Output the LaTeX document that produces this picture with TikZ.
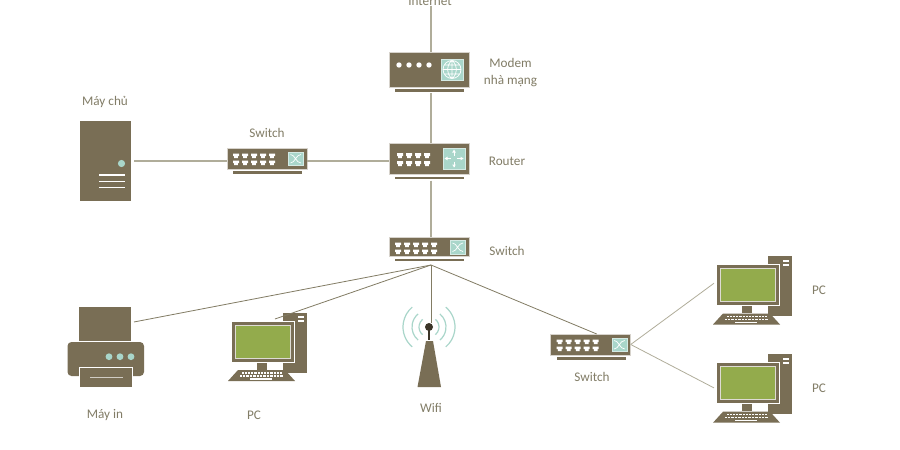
\documentclass[tikz,border=0pt]{standalone}
\usepackage{fontspec}
\setmainfont{Carlito}
\definecolor{body}{HTML}{796E55}
\definecolor{teal}{HTML}{A9D6CA}
\definecolor{scr}{HTML}{93AB4C}
\definecolor{txt}{HTML}{827D67}
\definecolor{linkA}{HTML}{B0AD9A}
\definecolor{linkB}{HTML}{827C64}
\definecolor{ink}{HTML}{3B3528}
\tikzset{
  box/.style={fill=body,inner sep=0pt,minimum width=#1},
  box/.default=80pt,
  lbl/.style={text=txt,font=\fontsize{13.2}{15.5}\selectfont,inner sep=0pt,align=center},
  baseBar/.style={fill=body},
  tealbox/.style={fill=teal,draw=white!50!teal,line width=.4pt},
  linkthick/.style={draw=linkA,line width=1.4pt},
  linkthin/.style={draw=linkB,line width=.8pt},
  wh/.style={draw=white,line width=.9pt}
}
% name, x left, y top, height
\newcommand{\netbox}[4]{%
  \node[box,draw=white!70!body,line width=.5pt,minimum height=#4 pt,outer sep=0pt] (#1) at (#2+40,#3+#4/2) {};
  \fill[baseBar] (#2+6,#3+#4+2.4) rectangle (#2+75,#3+#4+4.6);
}
% x left, y row 1, y row 2, columns, height
\newcommand{\ports}[5]{%
  \foreach \c in {1,...,#4}{
    \foreach \r in {#2,#3}{
      \fill[white] (#1+\c*9-9,\r) -- ++(6,0) -- ++(0,#5*.6) -- ++(-1.2,0) -- ++(0,#5*.4) -- ++(-3.6,0) -- ++(0,-#5*.4) -- ++(-1.2,0) -- cycle;
    }
  }
}
% name, x shift, y shift
\newcommand{\pcunit}[3]{%
  \begin{scope}[shift={(#2,#3)}]
    \fill[body] (282,312) rectangle (307,373);
    \draw[draw=white,line width=.5pt] (282,312) rectangle (307,373);
    \fill[white] (298,316) rectangle (304,318.2);
    \fill[white] (298,320) rectangle (304,322.2);
    \node[box=63pt,minimum height=41pt,draw=white,line width=.7pt,outer sep=2pt] (#1) at (262.5,341.5) {};
    \fill[scr] (235,325) rectangle (290,358);
    \draw[white!75!body,line width=1pt] (235,325) rectangle (290,358);
    \fill[body] (257,362.6) rectangle (267,369.5);
    \fill[body] (238,370) -- (285,370) -- (295,381) -- (228,381) -- cycle;
    \foreach \kx in {0,...,12}{
      \fill[white] (241.5+\kx*3.2,372) rectangle ++(2.2,1.6);
      \fill[white] (239.5+\kx*3.4,375) rectangle ++(2.4,1.6);
    }
    \fill[white] (250,378) rectangle (272,379.6);
  \end{scope}
}
\begin{document}
\begin{tikzpicture}[x=1pt,y=-1pt]
\useasboundingbox (0,0) rectangle (900,450);
\clip (0,0) rectangle (900,450);
\fill[white] (0,0) rectangle (900,450);

% Modem
\netbox{modem}{389}{52}{35}
\foreach \dx in {399,409,419,429}{\fill[white] (\dx,65) circle (2.7);}
\fill[tealbox] (441,59) rectangle (463,80);
\draw[tealbox] (441,59) rectangle (463,80);
\draw[wh,line width=.7pt] (452,69.5) circle (9) (443,69.5) -- (461,69.5) (452,60.5) -- (452,78.5)
  (444.5,65) -- (459.5,65) (444.5,74) -- (459.5,74)
  (452,60.5) .. controls (446,65) and (446,74) .. (452,78.5)
  (452,60.5) .. controls (458,65) and (458,74) .. (452,78.5);

% Router
\netbox{router}{389}{143}{31.5}
\ports{397}{153}{161}{4}{5}
\draw[tealbox] (443,148) rectangle (465,169);
\draw[wh,line width=.8pt] (454,150.5) -- (454,156) (454,161.5) -- (454,166.5) (445.5,158.5) -- (451,158.5) (457,158.5) -- (462.5,158.5);
\fill[white] (454,149.5) -- (455.8,152.5) -- (452.2,152.5) -- cycle
  (454,167.5) -- (455.8,164.5) -- (452.2,164.5) -- cycle
  (444.5,158.5) -- (447.5,156.7) -- (447.5,160.3) -- cycle
  (463.5,158.5) -- (460.5,156.7) -- (460.5,160.3) -- cycle;

% Main switch
\netbox{swmain}{389}{237}{19.7}
\ports{395}{242.5}{249.5}{5}{4.5}
\draw[tealbox] (450.5,240.5) rectangle (465,254);
\draw[wh,line width=.7pt] (452.5,243) .. controls (457,243) and (458,251.5) .. (463,251.5)
  (452.5,251.5) .. controls (457,251.5) and (458,243) .. (463,243);

% Left switch
\netbox{swleft}{227}{148}{21}
\ports{233}{153.5}{160.5}{5}{4.5}
\draw[tealbox] (288.5,152) rectangle (303,165.5);
\draw[wh,line width=.7pt] (290.5,154.5) .. controls (295,154.5) and (296,163) .. (301,163)
  (290.5,163) .. controls (295,163) and (296,154.5) .. (301,154.5);

% Right switch
\netbox{swright}{550.7}{334}{21}
\ports{556.7}{339.5}{346.5}{5}{4.5}
\draw[tealbox] (612.2,338) rectangle (626.7,351.5);
\draw[wh,line width=.7pt] (614.2,340.5) .. controls (618.7,340.5) and (619.7,349) .. (624.7,349)
  (614.2,349) .. controls (618.7,349) and (619.7,340.5) .. (624.7,340.5);

% Server
\node[box=51pt,minimum height=80pt,outer sep=3pt] (server) at (105.5,161) {};
\fill[teal] (121.5,163.5) circle (3.6);
\foreach \ly in {175,181.5,187.5}{\draw[white,line width=1.2pt] (99,\ly) -- (125,\ly);}

% Printer
\node[box=52pt,minimum height=34pt,outer sep=3pt] (printer) at (105,324) {};
\fill[body,rounded corners=4pt] (67.5,342) rectangle (144,376);
\fill[body,draw=white,line width=.8pt] (79.5,367) rectangle (132,387.5);
\draw[white!65!body,line width=1pt] (90,377) -- (123,377);
\foreach \px in {109,120,131}{\fill[teal] (\px,356.7) circle (3.4);}

% PCs
\pcunit{pca}{0}{0}
\pcunit{pcb}{485}{-56.5}
\pcunit{pcc}{485}{41.7}

% Wifi
\foreach \rr in {10,17,26}{
  \draw[teal,line width=1.2pt] ([shift={(-50:\rr)}]429,327) arc (-50:50:\rr);
  \draw[teal,line width=1.2pt] ([shift={(130:\rr)}]429,327) arc (130:230:\rr);
}
\fill[body] (426,341) -- (433,341) -- (441,387) -- (417.5,387) -- cycle;
\draw[ink,line width=2pt] (429,327) -- (429,340);
\node[circle,fill=ink,inner sep=0pt,minimum size=8pt,outer sep=0pt] (wifi) at (429,327) {};

% Labels
\node[lbl] (inet) at (430,1.5) {Internet};
\node[lbl] at (510.5,72.5) {Modem\\[1pt]nhà mạng};
\node[lbl] at (507,161) {Router};
\node[lbl] at (507,250.5) {Switch};
\node[lbl] at (267,132.5) {Switch};
\node[lbl] at (105,101.5) {Máy chủ};
\node[lbl] at (105,415.5) {Máy in};
\node[lbl] at (254,415.5) {PC};
\node[lbl] at (431,407.5) {Wifi};
\node[lbl] at (592,376.5) {Switch};
\node[lbl] at (819,290.5) {PC};
\node[lbl] at (819,388.5) {PC};

% Connectors
\coordinate (hub) at (431,265);
\draw[linkthick] ([xshift=1pt]inet.south) -- ([xshift=2pt]modem.north);
\draw[linkthick] ([xshift=2pt,yshift=-6pt]modem.south) -- ([xshift=2pt]router.north);
\draw[linkthick] ([xshift=2pt,yshift=-6pt]router.south) -- ([xshift=2pt]swmain.north);
\draw[linkthick] (server.east) -- ([yshift=-2.5pt]swleft.west);
\draw[linkthick] ([yshift=-2.5pt]swleft.east) -- ([yshift=-2.25pt]router.west);
\draw[linkthin] (hub) -- (printer.4);
\draw[linkthin] (hub) -- (pca.61);
\draw[linkthin] (hub) -- (wifi.north -| hub);
\draw[linkthin] (hub) -- ([xshift=6pt]swright.north);
\draw[linkthin,draw=linkA] (swright.east) -- (pcb.177);
\draw[linkthin,draw=linkA] (swright.east) -- (pcc.188);
\end{tikzpicture}
\end{document}
